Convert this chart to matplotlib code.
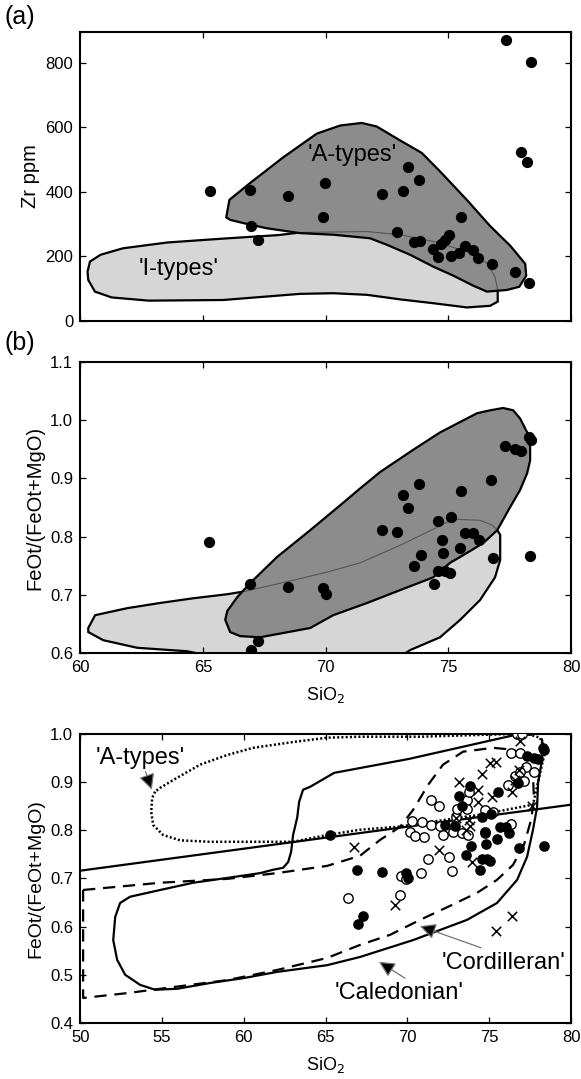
import numpy as np
import matplotlib
matplotlib.use("Agg")
import matplotlib.pyplot as plt
from matplotlib.patches import Polygon

plt.rcParams["font.family"] = ["Liberation Sans", "DejaVu Sans"]

# ---- panel (a): Zr vs SiO2 ----
a_sio2 = [77.35, 78.38, 65.27, 66.92, 66.95, 67.26, 68.45, 69.99, 69.91, 72.30, 73.14,
          73.35, 73.81, 72.90, 73.58, 73.85, 75.53, 75.04, 74.87, 74.69, 74.39, 74.56,
          75.10, 75.45, 75.66, 76.02, 76.22, 76.78, 77.73, 77.95, 78.22, 78.30]
a_zr = [870, 802, 401, 404, 294, 251, 387, 427, 323, 392, 402,
        476, 437, 274, 243, 249, 323, 267, 251, 239, 222, 197,
        202, 210, 233, 220, 194, 177, 151, 522, 491, 119]

a_atype_x = [65.95, 66.08, 66.92, 68.28, 69.64, 70.59, 71.47, 72.08, 73.03, 73.92, 74.66,
             75.75, 76.70, 77.52, 78.13, 78.17, 77.89, 77.38, 76.57, 76.02, 75.21, 74.39,
             73.44, 72.49, 71.81, 70.32, 68.96, 67.60, 66.65, 66.11]
a_atype_y = [321, 375, 427, 507, 580, 605, 613, 602, 559, 520, 463,
             375, 294, 233, 177, 140, 106, 96, 91, 109, 140, 168,
             205, 236, 256, 267, 272, 287, 303, 313]

a_itype_x = [60.30, 60.40, 60.83, 61.74, 63.55, 65.82, 68.09, 68.96, 71.68, 73.03, 74.39,
             75.75, 76.57, 76.90, 77.01, 77.01, 76.70, 75.75, 74.39, 73.03, 71.68, 70.32,
             68.96, 65.82, 62.79, 61.28, 60.60, 60.33]
a_itype_y = [153, 184, 205, 225, 243, 255, 266, 274, 277, 267, 246,
             215, 179, 137, 96, 60, 47, 42, 55, 67, 81, 86,
             84, 65, 63, 73, 91, 127]

# ---- panel (b): FeOt/(FeOt+MgO) vs SiO2 ----
b_sio2 = [65.25, 66.92, 68.46, 69.91, 70.02, 67.26, 66.95, 78.27, 78.35, 77.29, 77.72,
          77.95, 76.73, 73.81, 75.52, 73.14, 73.35, 75.10, 74.58, 72.31, 72.90, 75.66,
          76.00, 76.23, 74.76, 75.48, 74.80, 73.88, 73.60, 76.81, 78.33, 74.57, 74.87,
          75.07, 74.42]
b_fe = [0.791, 0.718, 0.714, 0.711, 0.701, 0.621, 0.605, 0.971, 0.966, 0.955, 0.950,
        0.947, 0.897, 0.891, 0.879, 0.871, 0.850, 0.833, 0.827, 0.811, 0.808, 0.807,
        0.807, 0.795, 0.795, 0.781, 0.772, 0.768, 0.749, 0.763, 0.767, 0.741, 0.741,
        0.737, 0.718]

b_atype_x = [65.91, 65.99, 66.40, 66.92, 68.02, 69.37, 70.71, 71.41, 72.22, 73.56, 74.66,
             76.17, 76.70, 77.23, 77.64, 77.92, 78.21, 78.33, 78.33, 78.21, 77.92, 77.52,
             76.99, 76.42, 75.76, 75.07, 74.38, 73.03, 71.69, 70.31, 69.37, 67.33, 66.52,
             66.11]
b_atype_y = [0.657, 0.672, 0.696, 0.720, 0.765, 0.811, 0.858, 0.883, 0.911, 0.949, 0.979,
             1.012, 1.017, 1.021, 1.017, 1.003, 0.979, 0.954, 0.931, 0.909, 0.880, 0.851,
             0.811, 0.789, 0.772, 0.755, 0.730, 0.708, 0.686, 0.665, 0.643, 0.627, 0.629,
             0.636]

b_itype_x = [60.33, 60.61, 61.91, 63.26, 64.60, 65.99, 66.72, 67.33, 68.68, 70.06, 71.41,
             73.03, 74.54, 75.19, 76.29, 76.78, 76.99, 77.11, 77.11, 76.90, 76.29, 75.48,
             74.66, 73.44, 72.83, 66.11, 64.36, 62.32, 60.94, 60.33]
b_itype_y = [0.643, 0.665, 0.677, 0.686, 0.694, 0.701, 0.706, 0.712, 0.725, 0.739, 0.755,
             0.785, 0.816, 0.830, 0.828, 0.820, 0.811, 0.803, 0.760, 0.730, 0.691, 0.657,
             0.627, 0.605, 0.588, 0.588, 0.603, 0.609, 0.622, 0.636]

# ---- panel (c): same axes, wider SiO2 range, other granite suites ----
c_open_sio2 = [66.37, 69.55, 69.62, 69.92, 70.80, 71.27, 72.52, 72.72, 70.15, 70.45, 71.00,
               70.26, 70.90, 71.44, 71.46, 71.90, 72.00, 72.20, 72.80, 72.98, 73.05, 73.35,
               73.66, 73.75, 73.66, 73.70, 74.73, 74.73, 75.25, 76.35, 76.16, 76.55, 76.32,
               76.85, 77.22, 76.90, 77.74, 77.10, 76.69, 77.00]
c_open_fe = [0.659, 0.666, 0.704, 0.698, 0.711, 0.740, 0.745, 0.716, 0.797, 0.789, 0.786,
             0.820, 0.818, 0.811, 0.863, 0.850, 0.808, 0.790, 0.797, 0.827, 0.843, 0.794,
             0.863, 0.880, 0.843, 0.790, 0.842, 0.797, 0.838, 0.812, 0.893, 0.912, 0.960,
             0.960, 0.932, 0.920, 0.921, 0.902, 0.999, 0.999]

c_cross_sio2 = [66.75, 69.24, 71.95, 73.15, 74.30, 74.30, 73.75, 73.85, 73.60, 73.92, 74.55,
                75.05, 75.40, 75.15, 76.40, 76.55, 76.80, 76.85, 77.60, 75.42, 76.40, 72.95]
c_cross_fe = [0.766, 0.645, 0.758, 0.901, 0.883, 0.858, 0.822, 0.808, 0.800, 0.735, 0.917,
              0.939, 0.942, 0.868, 0.880, 0.905, 0.925, 0.985, 0.851, 0.590, 0.621, 0.826]

line_x = [50, 80]
line_y = [0.716, 0.853]

caled_x = [77.55, 76.88, 70.10, 65.52, 64.05, 63.62, 63.38, 63.26, 63.01, 62.89, 62.71,
           62.40, 61.79, 61.00, 58.98, 56.90, 54.89, 53.05, 52.44, 52.14, 52.02, 52.26,
           52.75, 53.67, 54.58, 55.93, 57.94, 59.96, 62.03, 65.09, 67.10, 70.34, 73.64,
           75.47, 76.70, 77.31, 77.67, 77.92, 77.98, 78.22, 78.28, 78.22]
caled_y = [0.998, 1.000, 0.948, 0.919, 0.890, 0.884, 0.859, 0.826, 0.790, 0.755, 0.734,
           0.722, 0.718, 0.711, 0.701, 0.691, 0.676, 0.662, 0.649, 0.620, 0.572, 0.531,
           0.500, 0.479, 0.469, 0.471, 0.483, 0.493, 0.506, 0.520, 0.537, 0.572, 0.614,
           0.649, 0.697, 0.745, 0.801, 0.848, 0.898, 0.946, 0.973, 0.988]

cordil_x = [50.18, 54.89, 58.98, 62.03, 65.09, 67.10, 68.33, 69.55, 70.34, 71.26, 72.17,
            73.40, 75.23, 76.45, 77.18, 77.67, 77.73, 77.55, 77.12, 76.45, 75.47, 74.25,
            72.60, 70.77, 68.94, 67.10, 65.09, 62.03, 58.98, 54.89, 52.87, 50.18]
cordil_y = [0.676, 0.691, 0.699, 0.711, 0.726, 0.747, 0.780, 0.807, 0.842, 0.894, 0.936,
            0.963, 0.971, 0.967, 0.952, 0.915, 0.863, 0.821, 0.770, 0.728, 0.697, 0.670,
            0.643, 0.614, 0.583, 0.562, 0.535, 0.510, 0.489, 0.471, 0.462, 0.452]

c_atype_x = [54.58, 54.40, 54.34, 54.46, 55.07, 56.11, 57.94, 61.00, 63.01, 65.09, 67.10,
             69.36, 74.43, 77.67, 77.98, 78.22, 78.41, 78.10, 77.31, 76.70, 70.77, 67.10,
             65.09, 63.01, 60.57, 58.98, 57.33, 55.93, 54.89]
c_atype_y = [0.880, 0.867, 0.838, 0.811, 0.790, 0.779, 0.776, 0.776, 0.776, 0.790, 0.801,
             0.807, 0.832, 0.853, 0.900, 0.936, 0.963, 0.992, 1.000, 1.000, 0.994, 0.994,
             0.992, 0.983, 0.971, 0.956, 0.936, 0.909, 0.888]

DARK = "#8c8c8c"
LIGHT = "#d6d6d6"
LABEL_FS = 14
NOTE_FS = 17


def style_axes(ax):
    ax.tick_params(direction="in", top=True, right=True, length=4.5, width=0.9,
                   labelsize=12, pad=5)
    for s in ax.spines.values():
        s.set_linewidth(1.5)


def draw_fields(ax, ix, iy, ax_, ay_):
    # I-types below, A-types on top, I-type edge seen through as a thin grey line
    ip = Polygon(np.column_stack([ix, iy]), closed=True, fc=LIGHT, ec="black",
                 lw=1.6, zorder=1)
    ax.add_patch(ip)
    ap = Polygon(np.column_stack([ax_, ay_]), closed=True, fc=DARK, ec="none", zorder=2)
    ax.add_patch(ap)
    thin, = ax.plot(list(ix) + [ix[0]], list(iy) + [iy[0]], color="#555555", lw=0.8,
                    zorder=3)
    thin.set_clip_path(ap)
    ax.add_patch(Polygon(np.column_stack([ax_, ay_]), closed=True, fc="none",
                         ec="black", lw=1.6, zorder=4))


fig = plt.figure(figsize=(5.81, 10.79), dpi=100)

# (a)
ax1 = fig.add_axes([0.138, 0.7025, 0.845, 0.268])
draw_fields(ax1, a_itype_x, a_itype_y, a_atype_x, a_atype_y)
ax1.scatter(a_sio2, a_zr, s=50, c="black", zorder=5)
ax1.text(71.07, 515, "'A-types'", fontsize=NOTE_FS, ha="center", va="center", zorder=6)
ax1.text(64.0, 161, "'I-types'", fontsize=NOTE_FS, ha="center", va="center", zorder=6)
ax1.set_xlim(60, 80)
ax1.set_ylim(0, 895)
ax1.set_xticks([60, 65, 70, 75, 80])
ax1.set_xticklabels([])
ax1.set_yticks([0, 200, 400, 600, 800])
ax1.set_ylabel("Zr ppm", fontsize=LABEL_FS + 0.5)
style_axes(ax1)

# (b)
ax2 = fig.add_axes([0.138, 0.3948, 0.845, 0.2697])
draw_fields(ax2, b_itype_x, b_itype_y, b_atype_x, b_atype_y)
ax2.scatter(b_sio2, b_fe, s=50, c="black", zorder=5)
ax2.set_xlim(60, 80)
ax2.set_ylim(0.6, 1.1)
ax2.set_xticks([60, 65, 70, 75, 80])
ax2.set_yticks([0.6, 0.7, 0.8, 0.9, 1.0, 1.1])
ax2.set_yticklabels(["0.6", "0.7", "0.8", "0.9", "1.0", "1.1"])
ax2.set_xlabel("SiO$_2$", fontsize=13, labelpad=7)
ax2.set_ylabel("FeOt/(FeOt+MgO)", fontsize=LABEL_FS + 0.5)
style_axes(ax2)

# (c)
ax3 = fig.add_axes([0.138, 0.0519, 0.845, 0.268])
ax3.plot(line_x, line_y, color="black", lw=1.6, zorder=2)
ax3.plot(caled_x, caled_y, color="black", lw=1.6, zorder=2)
ax3.plot(cordil_x + [cordil_x[0]], cordil_y + [cordil_y[0]], color="black", lw=1.6,
         dashes=(5.5, 3.5), zorder=2)
ax3.plot(c_atype_x + [c_atype_x[0]], c_atype_y + [c_atype_y[0]], color="black", lw=1.8,
         dashes=(0.8, 0.9), zorder=2)
ax3.scatter(c_open_sio2, c_open_fe, s=46, facecolors="white", edgecolors="black",
            linewidths=1.0, zorder=4)
ax3.scatter(c_cross_sio2, c_cross_fe, s=46, marker="x", c="black", linewidths=1.1,
            zorder=4)
ax3.scatter(b_sio2, b_fe, s=44, c="black", zorder=5)

arrow = dict(arrowstyle="-|>", fc="black", ec="0.45", lw=0.9, mutation_scale=24,
             shrinkA=0, shrinkB=0)
ax3.annotate("'A-types'", xy=(54.38, 0.884), xytext=(53.7, 0.950), fontsize=NOTE_FS,
             ha="center", va="center", arrowprops=arrow)
ax3.annotate("", xy=(70.76, 0.601), xytext=(74.5, 0.556), arrowprops=arrow)
ax3.text(75.9, 0.524, "'Cordilleran'", fontsize=NOTE_FS, ha="center", va="center")
ax3.annotate("", xy=(68.26, 0.527), xytext=(69.85, 0.493), arrowprops=arrow)
ax3.text(69.5, 0.462, "'Caledonian'", fontsize=NOTE_FS, ha="center", va="center")

ax3.set_xlim(50, 80)
ax3.set_ylim(0.4, 1.0)
ax3.set_xticks([50, 55, 60, 65, 70, 75, 80])
ax3.set_yticks([0.4, 0.5, 0.6, 0.7, 0.8, 0.9, 1.0])
ax3.set_yticklabels(["0.4", "0.5", "0.6", "0.7", "0.8", "0.9", "1.0"])
ax3.set_xlabel("SiO$_2$", fontsize=13, labelpad=7)
ax3.set_ylabel("FeOt/(FeOt+MgO)", fontsize=LABEL_FS)
style_axes(ax3)

fig.text(0.008, 0.984, "(a)", fontsize=18, va="center")
fig.text(0.008, 0.682, "(b)", fontsize=18, va="center")

fig.savefig("out.png", dpi=100)
